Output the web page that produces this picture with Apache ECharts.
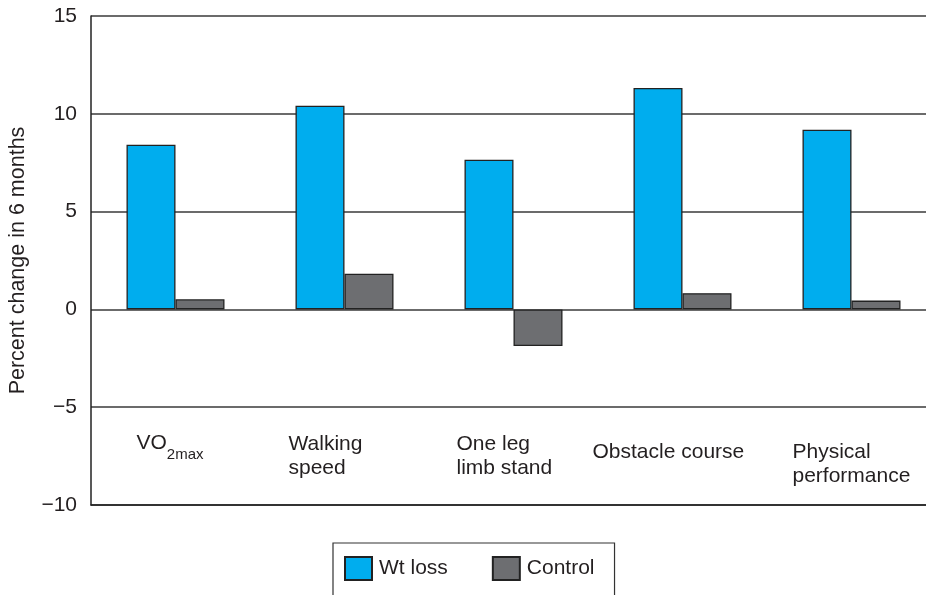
<!DOCTYPE html>
<html><head><meta charset="utf-8">
<script src="https://cdn.jsdelivr.net/npm/echarts@6/dist/echarts.min.js"></script>
<style>html,body{margin:0;padding:0;background:#fff}#c{width:926px;height:595px}</style>
</head><body><div id="c"></div>
<script>
const categories = ['VO2max', 'Walking\nspeed', 'One leg\nlimb stand', 'Obstacle course', 'Physical\nperformance'];
const wtLoss = [8.42, 10.41, 7.65, 11.32, 9.19];
const control = [0.52, 1.82, -1.87, 0.83, 0.45];
const yTicks = [-10, -5, 0, 5, 10, 15];
const seriesNames = ['Wt loss', 'Control'];

// label placement styles (offset from category centre, top of text)
const labelDx = [-39, -56, -57, -90, -59];
const labelTop = [433, 432, 432, 440, 440];

const FONT = '"Liberation Sans", Arial, Helvetica, sans-serif';
const chart = echarts.init(document.getElementById('c'));
chart.setOption({
  animation: false,
  textStyle: { fontFamily: FONT },
  grid: { left: 91, top: 16, height: 489, width: 845, containLabel: false, outerBoundsMode: 'none' },
  legend: {
    data: seriesNames, left: 333, top: 543, orient: 'horizontal',
    borderColor: '#333', borderWidth: 1.2, padding: [13, 20, 20, 11],
    itemWidth: 27, itemHeight: 23, itemGap: 44, icon: 'rect',
    textStyle: { fontSize: 21, color: '#231f20', fontFamily: FONT, padding: [0, 0, 0, 2] }
  },
  xAxis: {
    type: 'category', data: categories, position: 'bottom',
    axisLine: { onZero: false, lineStyle: { color: '#222', width: 1.5 } },
    axisTick: { show: false }, axisLabel: { show: false }, splitLine: { show: false }
  },
  yAxis: {
    type: 'value', min: yTicks[0], max: yTicks[yTicks.length - 1], interval: 5,
    name: 'Percent change in 6 months', nameLocation: 'middle', nameGap: 62,
    nameTextStyle: { fontSize: 21.5, color: '#231f20', fontFamily: FONT },
    axisLine: { show: true, lineStyle: { color: '#222', width: 1.5 } },
    axisTick: { show: false },
    axisLabel: { fontSize: 21, color: '#231f20', margin: 14, fontFamily: FONT,
      formatter: v => (v < 0 ? '\u2212' + Math.abs(v) : String(v)) },
    splitLine: { show: true, lineStyle: { color: '#3a3a3a', width: 1.5 } }
  },
  series: [
    { name: seriesNames[0], type: 'bar', data: wtLoss, barWidth: 49, barGap: '0%',
      itemStyle: { color: '#00ADEE', borderColor: '#222', borderWidth: 1.3 } },
    { name: seriesNames[1], type: 'bar', data: control, barWidth: 49, barGap: '0%',
      itemStyle: { color: '#6D6E71', borderColor: '#222', borderWidth: 1.3 } }
  ]
});

const graphics = categories.map((c, i) => {
  const cx = chart.convertToPixel({ xAxisIndex: 0 }, i);
  const base = { type: 'text', left: cx + labelDx[i], top: labelTop[i], z: 10 };
  if (c === 'VO2max') {
    base.style = { text: '{a|VO}{b|2max}', font: '21px ' + FONT, fill: '#231f20',
      rich: { a: { fontSize: 21, fontFamily: FONT, fill: '#231f20', verticalAlign: 'top' },
              b: { fontSize: 15, fontFamily: FONT, fill: '#231f20', padding: [14, 0, 0, 0] } } };
  } else {
    base.style = { text: c, font: '21px ' + FONT, fill: '#231f20', lineHeight: 24 };
  }
  return base;
});
chart.setOption({ graphic: graphics });
</script></body></html>
